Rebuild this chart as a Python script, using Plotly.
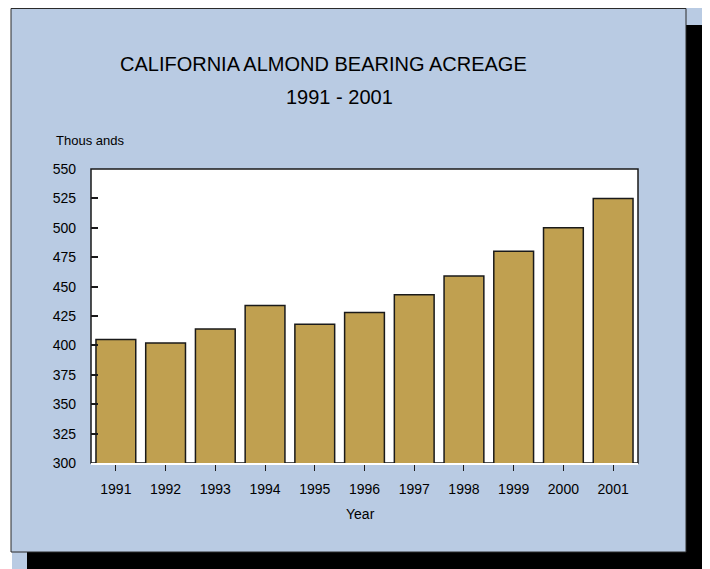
import plotly.graph_objects as go

years = ["1991", "1992", "1993", "1994", "1995", "1996", "1997", "1998", "1999", "2000", "2001"]
acreage = [405, 402, 414, 434, 418, 428, 443, 459, 480, 500, 525]
y_ticks = [300, 325, 350, 375, 400, 425, 450, 475, 500, 525, 550]
y_labels = ["300", "325", "350", "375", "400", "425", "450", "475", "500", "525", "550"]

FONT = "Liberation Sans Narrow, Arial Narrow, Liberation Sans, Arial, sans-serif"
BLUE = "#B9CBE3"

OFF = 8  # page body margin
W, H = 710 - OFF, 569 - OFF
L, R, T, B = 91 - OFF, 638 - OFF, 169 - OFF, 463 - OFF


def px(x):
    return (x - OFF - L) / (R - L)


def py(y):
    return (B - (y - OFF)) / (B - T)


fig = go.Figure()
fig.add_trace(go.Bar(
    x=years, y=acreage, width=0.8,
    marker=dict(color="#C0A050", line=dict(color="#1a1a1a", width=1.5)),
    showlegend=False,
))

shapes = [
    dict(type="rect", xref="paper", yref="paper", x0=px(12), x1=px(712), y0=py(572), y1=py(8),
         fillcolor=BLUE, line=dict(width=0), layer="below"),
    dict(type="rect", xref="paper", yref="paper", x0=px(27), x1=px(705), y0=py(572), y1=py(25),
         fillcolor="black", line=dict(width=0), layer="below"),
    dict(type="rect", xref="paper", yref="paper", x0=px(11), x1=px(686), y0=py(552), y1=py(8.5),
         fillcolor=BLUE, line=dict(color="#2a2a2a", width=1), layer="below"),
    dict(type="rect", xref="paper", yref="paper", x0=0, x1=1, y0=0, y1=1,
         fillcolor="white", line=dict(color="#1a1a1a", width=1.5), layer="below"),
]

annotations = [
    dict(text="CALIFORNIA ALMOND BEARING ACREAGE", xref="paper", yref="paper",
         x=px(323), y=py(64), showarrow=False, xanchor="center", yanchor="middle",
         font=dict(family=FONT, size=20, color="black")),
    dict(text="1991 - 2001", xref="paper", yref="paper",
         x=px(339), y=py(97), showarrow=False, xanchor="center", yanchor="middle",
         font=dict(family=FONT, size=20, color="black")),
    dict(text="Thous ands", xref="paper", yref="paper",
         x=px(54), y=py(141), showarrow=False, xanchor="left", yanchor="middle",
         font=dict(family=FONT, size=13, color="black")),
    dict(text="Year", xref="paper", yref="paper",
         x=px(360), y=py(514), showarrow=False, xanchor="center", yanchor="middle",
         font=dict(family=FONT, size=14, color="black")),
]

fig.update_layout(
    width=W, height=H,
    margin=dict(l=L, r=W - R, t=T, b=H - B, pad=0),
    paper_bgcolor="white",
    plot_bgcolor="white",
    shapes=shapes,
    annotations=annotations,
    font=dict(family=FONT, size=14, color="black"),
    xaxis=dict(
        type="category", showgrid=False, showline=True, linecolor="white", linewidth=2,
        ticks="outside", ticklen=6, tickcolor="#1a1a1a", tickwidth=1,
        tickfont=dict(family=FONT, size=14, color="black"),
        ticklabelstandoff=6,
    ),
    yaxis=dict(
        range=[300, 550], tickvals=y_ticks, ticktext=y_labels, showgrid=False,
        zeroline=False, showline=False,
        ticks="inside", ticklen=7, tickcolor="#1a1a1a", tickwidth=1.5,
        tickfont=dict(family=FONT, size=14, color="black"),
        ticklabelstandoff=14,
    ),
)

fig.write_html("out.html")
